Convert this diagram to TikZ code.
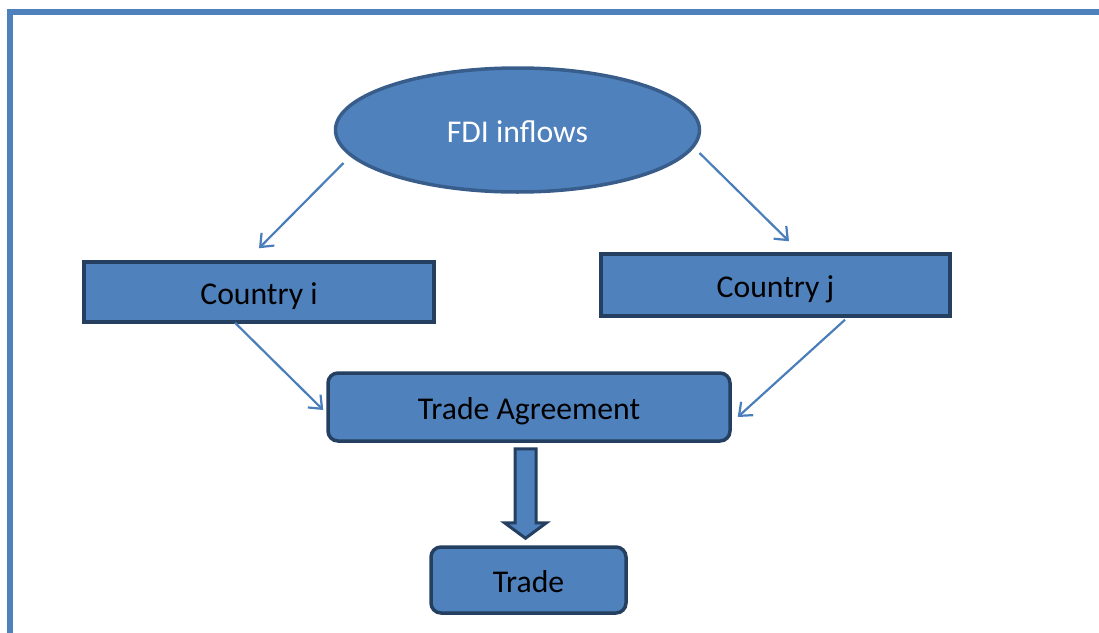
\documentclass[tikz,border=0pt]{standalone}
\usepackage{fontspec}
\setmainfont{Carlito}
\usetikzlibrary{shapes.geometric,arrows.meta,calc}
\definecolor{fillblue}{HTML}{4F81BD}
\definecolor{edgenavy}{HTML}{243F60}
\definecolor{ellipseedge}{HTML}{385D8A}
\definecolor{linkblue}{HTML}{4A7EBB}
\begin{document}
\begin{tikzpicture}[x=1pt,y=-1pt,
  every node/.style={font=\fontsize{31.7}{38}\selectfont, inner sep=0pt, text height=30pt, text depth=5pt},
  blockbox/.style={draw=edgenavy, line width=3.5pt, fill=fillblue, text=black},
  roundbox/.style={blockbox, rounded corners=10pt},
  link/.style={draw=linkblue, line width=2.2pt, -{Straight Barb[length=11pt,width=18pt,line width=2.2pt]}},
  framerule/.style={draw=fillblue, line width=6pt}]
\useasboundingbox (0,0) rectangle (1099,632);
% outer frame (top and left edges)
\draw[framerule] (10,640) -- (10,12) -- (1110,12);
% nodes
\node[ellipse, draw=ellipseedge, line width=3.5pt, fill=fillblue, text=white,
      minimum width=364pt, minimum height=124pt] (fdi) at (517.5,130) {FDI inflows};
\node[blockbox, minimum width=350pt, minimum height=60pt] (ci) at (259,292) {Country i};
\node[blockbox, minimum width=349pt, minimum height=62pt] (cj) at (775.5,285) {Country j};
\node[roundbox, minimum width=402pt, minimum height=68pt] (ta) at (529,407) {Trade Agreement};
\node[roundbox, minimum width=195pt, minimum height=66pt] (tr) at (528.5,580) {Trade};
% thin connectors
\draw[link] ($(fdi.center)+(-174,33)$) -- ($(ci.north)+(0,-12)$);
\draw[link] ($(fdi.center)+(182,23)$) -- ($(cj.north)+(13.5,-11)$);
\draw[link] ($(ci.south)+(-24,-1)$) -- ($(ta.west)+(-3,3)$);
\draw[link] ($(cj.south)+(69.5,2)$) -- ($(ta.east)+(6,10)$);
% block arrow from the agreement to trade
\coordinate (bt) at ($(ta.south)+(-3.5,6)$);
\filldraw[fill=fillblue, draw=edgenavy, line width=3pt, line join=miter]
  ($(bt)+(-10.5,0)$) -- ($(bt)+(10.5,0)$) -- ($(bt)+(10.5,74)$) -- ($(bt)+(21,74)$)
  -- ($(tr.north)+(-3,-7)$) -- ($(bt)+(-21,74)$) -- ($(bt)+(-10.5,74)$) -- cycle;
\end{tikzpicture}
\end{document}
